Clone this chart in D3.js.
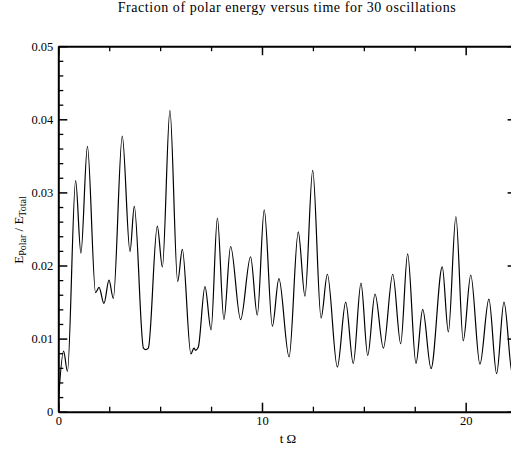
<!DOCTYPE html>
<html>
<head>
<meta charset="utf-8">
<script src="https://cdn.jsdelivr.net/npm/d3@7"></script>
<style>
  body { margin: 0; background: #fff; }
  svg text { font-family: "Liberation Serif", "DejaVu Serif", serif; fill: #000; }
  .axis path, .axis line { stroke: #000; }
</style>
</head>
<body>
<svg width="511" height="451"></svg>
<script>
var tValues = [
  0.00, 0.26, 0.45, 0.85, 1.11, 1.43, 1.83, 2.00, 2.24, 2.49,
  2.70, 3.14, 3.52, 3.73, 4.18, 4.29, 4.42, 4.86, 5.11, 5.48,
  5.86, 6.09, 6.51, 6.66, 6.74, 6.87, 7.20, 7.50, 7.81, 8.13,
  8.46, 8.95, 9.44, 9.77, 10.11, 10.51, 10.83, 11.33, 11.78, 12.11,
  12.49, 12.90, 13.21, 13.70, 14.11, 14.48, 14.86, 15.19, 15.55, 15.96,
  16.42, 16.81, 17.15, 17.56, 17.89, 18.30, 18.85, 19.15, 19.52, 19.88,
  20.25, 20.70, 21.14, 21.52, 21.88, 22.30, 22.50
];
var energyFraction = [
  0.0013, 0.0083, 0.0055, 0.0316, 0.0217, 0.0363, 0.0163, 0.0170, 0.0148, 0.0180,
  0.0155, 0.0377, 0.0219, 0.0281, 0.0087, 0.0085, 0.0087, 0.0254, 0.0198, 0.0412,
  0.0178, 0.0222, 0.0079, 0.0087, 0.0084, 0.0088, 0.0171, 0.0112, 0.0265, 0.0126,
  0.0226, 0.0126, 0.0212, 0.0132, 0.0276, 0.0117, 0.0182, 0.0075, 0.0246, 0.0158,
  0.0330, 0.0128, 0.0188, 0.0061, 0.0150, 0.0066, 0.0176, 0.0077, 0.0161, 0.0087,
  0.0188, 0.0093, 0.0216, 0.0066, 0.0140, 0.0059, 0.0198, 0.0109, 0.0267, 0.0097,
  0.0187, 0.0065, 0.0154, 0.0052, 0.0150, 0.0050, 0.0065
];

var xMajorTicks = [0, 10, 20];
var xMinorTicks = [2.5, 5, 7.5, 12.5, 15, 17.5, 22.5];
var yMajorTicks = [0, 0.01, 0.02, 0.03, 0.04, 0.05];
var yMinorTicks = [0.002, 0.004, 0.006, 0.008, 0.012, 0.014, 0.016, 0.018,
  0.022, 0.024, 0.026, 0.028, 0.032, 0.034, 0.036, 0.038,
  0.042, 0.044, 0.046, 0.048];

var titleText = "Fraction of polar energy versus time for 30 oscillations";

var svg = d3.select("svg");
var margin = {left: 58.3, right: 516.6, top: 46.2, bottom: 411.7};

var x = d3.scaleLinear().domain([0, 22.5]).range([margin.left, margin.right]);
var y = d3.scaleLinear().domain([0, 0.05]).range([margin.bottom, margin.top]);

var data = tValues.map(function(t, i) { return {t: t, v: energyFraction[i]}; });

// title
svg.append("text")
  .attr("x", 287)
  .attr("y", 12)
  .attr("text-anchor", "middle")
  .style("font-size", "14px")
  .style("letter-spacing", "0.55px")
  .text(titleText);

// the curve
var line = d3.line()
  .x(function(d) { return x(d.t); })
  .y(function(d) { return y(d.v); })
  .curve(d3.curveMonotoneX);

svg.append("defs").append("clipPath").attr("id", "clip")
  .append("rect")
  .attr("x", margin.left).attr("y", margin.top)
  .attr("width", margin.right - margin.left)
  .attr("height", margin.bottom - margin.top);

svg.append("path")
  .datum(data)
  .attr("clip-path", "url(#clip)")
  .attr("fill", "none")
  .attr("stroke", "#000")
  .attr("stroke-width", 1.2)
  .attr("d", line);

function yFormat(d) { return d === 0 ? "0" : d3.format(".2f")(d); }

// minor ticks first, then major ticks with labels
function drawAxis(axisMinor, axisMajor, transform) {
  var gMinor = svg.append("g").attr("class", "axis").attr("transform", transform).call(axisMinor);
  gMinor.select(".domain").remove();
  gMinor.selectAll("line").attr("stroke-width", 1.3);
  var gMajor = svg.append("g").attr("class", "axis").attr("transform", transform).call(axisMajor);
  gMajor.select(".domain").attr("stroke-width", 2);
  gMajor.selectAll("line").attr("stroke-width", 1.5);
  gMajor.selectAll("text").style("font-size", "12.5px");
  return gMajor;
}

drawAxis(
  d3.axisBottom(x).tickValues(xMinorTicks).tickSize(-5).tickFormat(""),
  d3.axisBottom(x).tickValues(xMajorTicks).tickSizeInner(-9).tickSizeOuter(0).tickPadding(4).tickFormat(d3.format("d")),
  "translate(0," + margin.bottom + ")"
);
drawAxis(
  d3.axisTop(x).tickValues(xMinorTicks).tickSize(-5).tickFormat(""),
  d3.axisTop(x).tickValues(xMajorTicks).tickSizeInner(-9).tickSizeOuter(0).tickFormat(""),
  "translate(0," + margin.top + ")"
);
drawAxis(
  d3.axisLeft(y).tickValues(yMinorTicks).tickSize(-5).tickFormat(""),
  d3.axisLeft(y).tickValues(yMajorTicks).tickSizeInner(-9).tickSizeOuter(0).tickPadding(5).tickFormat(yFormat),
  "translate(" + margin.left + ",0)"
);
drawAxis(
  d3.axisRight(y).tickValues(yMinorTicks).tickSize(-5).tickFormat(""),
  d3.axisRight(y).tickValues(yMajorTicks).tickSizeInner(-9).tickSizeOuter(0).tickFormat(""),
  "translate(" + margin.right + ",0)"
);

// axis titles
svg.append("text")
  .attr("x", 288)
  .attr("y", 443)
  .attr("text-anchor", "middle")
  .style("font-size", "13px")
  .text("t \u03A9");

var ylab = svg.append("text")
  .attr("transform", "translate(23,230) rotate(-90)")
  .attr("text-anchor", "middle")
  .style("font-size", "13px");
ylab.append("tspan").text("E");
ylab.append("tspan").attr("dy", 3).style("font-size", "10px").text("Polar");
ylab.append("tspan").attr("dy", -3).text(" / E");
ylab.append("tspan").attr("dy", 3).style("font-size", "10px").text("Total");
</script>
</body>
</html>
